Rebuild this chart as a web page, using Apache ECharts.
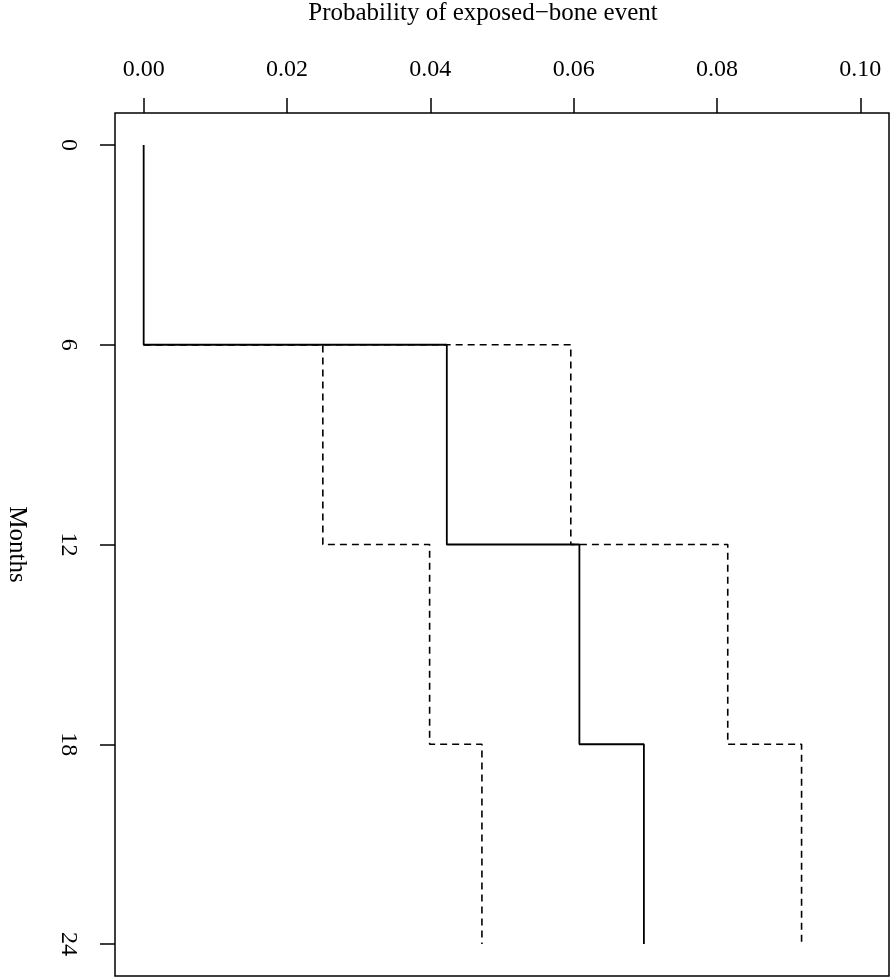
<!DOCTYPE html>
<html>
<head>
<meta charset="utf-8">
<script src="https://cdn.jsdelivr.net/npm/echarts@6/dist/echarts.min.js"></script>
<style>
html,body{margin:0;padding:0;background:#fff;}
#chart{width:890px;height:978px;}
</style>
</head>
<body>
<div id="chart"></div>
<script>
// months at which the step function changes
var months = [0, 6, 12, 18, 24];
// estimate (solid) and confidence limits (dashed), one value per interval
var estimate = [0, 0.0423, 0.0608, 0.0698];
var lower = [0, 0.0250, 0.0399, 0.0472];
var upper = [0, 0.0596, 0.0815, 0.0918];
var probTicks = [0, 0.02, 0.04, 0.06, 0.08, 0.10];

// build vertical step path: value held over each interval, jumps at the month
function stepPath(vals, startIdx){
	var pts = [];
	for (var i = startIdx; i < vals.length; i++) {
		if (i > 0) {
			pts.push([vals[i - 1], months[i]]);
		}
		pts.push([vals[i], months[i]]);
		pts.push([vals[i], months[i + 1]]);
	}
	return pts;
}

var font = 'Liberation Serif, Times New Roman, serif';
var chart = echarts.init(document.getElementById('chart'));
chart.setOption({
	animation: false,
	backgroundColor: '#fff',
	grid: {
		left: 115, top: 113, width: 774, height: 863,
		show: true, borderColor: '#000', borderWidth: 1.5,
		containLabel: false,
		outerBoundsMode: 'none'
	},
	xAxis: {
		type: 'value',
		position: 'top',
		min: -0.004, max: 0.104,
		name: 'Probability of exposed\u2212bone event',
		nameLocation: 'middle',
		nameGap: 87,
		nameTextStyle: {fontFamily: font, fontSize: 25, color: '#000', padding: [0, 38, 0, 0]},
		axisLine: {show: false, onZero: false},
		axisTick: {show: true, length: 15, lineStyle: {color: '#000', width: 1.5},
			customValues: probTicks},
		axisLabel: {fontFamily: font, fontSize: 24, color: '#000', margin: 31,
			customValues: probTicks,
			formatter: function(v){ return v.toFixed(2); }},
		splitLine: {show: false}
	},
	yAxis: {
		type: 'value',
		inverse: true,
		min: -0.96, max: 24.96,
		name: 'Months',
		nameLocation: 'middle',
		nameGap: 86,
		nameRotate: -90,
		nameTextStyle: {fontFamily: font, fontSize: 25, color: '#000'},
		axisLine: {show: false, onZero: false},
		axisTick: {show: true, length: 15, lineStyle: {color: '#000', width: 1.5},
			customValues: months},
		axisLabel: {fontFamily: font, fontSize: 24, color: '#000', margin: 35,
			rotate: -90, customValues: months},
		splitLine: {show: false}
	},
	series: [
		{
			type: 'line', z: 2, symbol: 'none',
			data: stepPath(lower, 1),
			lineStyle: {color: '#000', width: 1.6, type: [7, 5]}
		},
		{
			type: 'line', z: 2, symbol: 'none',
			data: stepPath(upper, 1),
			lineStyle: {color: '#000', width: 1.6, type: [7, 5]}
		},
		{
			type: 'line', z: 3, symbol: 'none',
			data: stepPath(estimate, 0),
			lineStyle: {color: '#000', width: 1.8}
		}
	]
});
</script>
</body>
</html>
